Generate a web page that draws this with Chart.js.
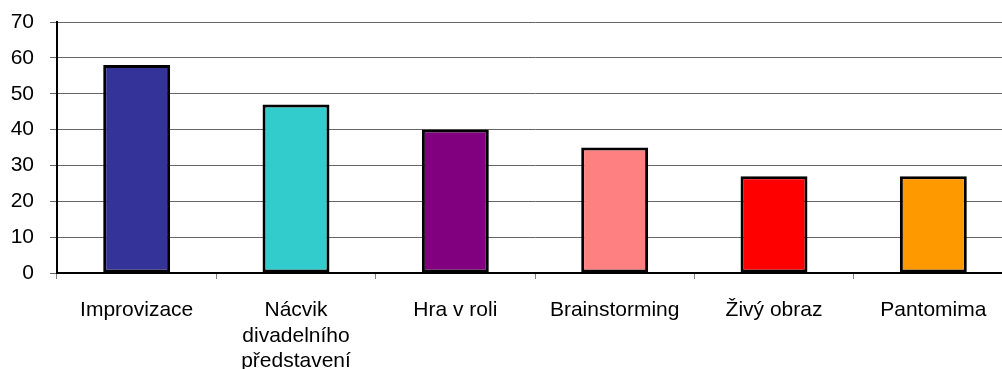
<!DOCTYPE html>
<html>
<head>
<meta charset="utf-8">
<script src="https://cdn.jsdelivr.net/npm/chart.js@4/dist/chart.umd.min.js"></script>
<style>
    html, body { margin: 0; padding: 0; background: #fff; overflow: hidden; }
    #wrap { width: 1013px; height: 369px; }
</style>
</head>
<body>
<div id="wrap"><canvas id="methodsChart"></canvas></div>
<script>
// Categories and counts
const categories = [
    'Improvizace',
    ['Nácvik', 'divadelního', 'představení'],
    'Hra v roli',
    'Brainstorming',
    'Živý obraz',
    'Pantomima',
];
const counts = [58, 47, 40, 35, 27, 27];
const barColors = ['#333399', '#33CCCC', '#800080', '#FF8080', '#FF0000', '#FF9900'];
const yTicks = [0, 10, 20, 30, 40, 50, 60, 70];

const FONT = { family: '"Liberation Sans", Arial, sans-serif', size: 21 };

const ctx = document.getElementById('methodsChart').getContext('2d');
new Chart(ctx, {
    type: 'bar',
    data: {
        labels: categories,
        datasets: [
            {
                data: counts,
                backgroundColor: barColors,
                borderColor: '#000000',
                borderWidth: 3,
                borderSkipped: false,
                barPercentage: 0.42,
                categoryPercentage: 1,
            },
        ],
    },
    options: {
        responsive: true,
        maintainAspectRatio: false,
        animation: false,
        layout: { padding: { top: 22, left: 0, right: 0, bottom: 0 } },
        scales: {
            x: {
                afterFit: (scale) => {
                    scale.height = 96;
                    scale.paddingLeft = 0;
                    scale.paddingRight = 0;
                },
                border: { color: '#000000', width: 2 },
                grid: {
                    offset: true,
                    drawOnChartArea: false,
                    color: '#808080',
                    tickLength: 6,
                },
                ticks: {
                    color: '#000000',
                    font: FONT,
                    padding: 19,
                    maxRotation: 0,
                    autoSkip: false,
                },
            },
            y: {
                min: 0,
                max: 70,
                afterFit: (scale) => {
                    scale.width = 57;
                    scale.paddingTop = 0;
                    scale.paddingBottom = 0;
                },
                afterBuildTicks: (scale) => { scale.ticks = yTicks.map((v) => ({ value: v })); },
                border: { color: '#000000', width: 2 },
                grid: {
                    color: '#666666',
                    tickLength: 7,
                },
                ticks: {
                    color: '#000000',
                    font: FONT,
                    padding: 16,
                },
            },
        },
        plugins: {
            legend: { display: false },
            tooltip: { enabled: false },
        },
    },
});
</script>
</body>
</html>
